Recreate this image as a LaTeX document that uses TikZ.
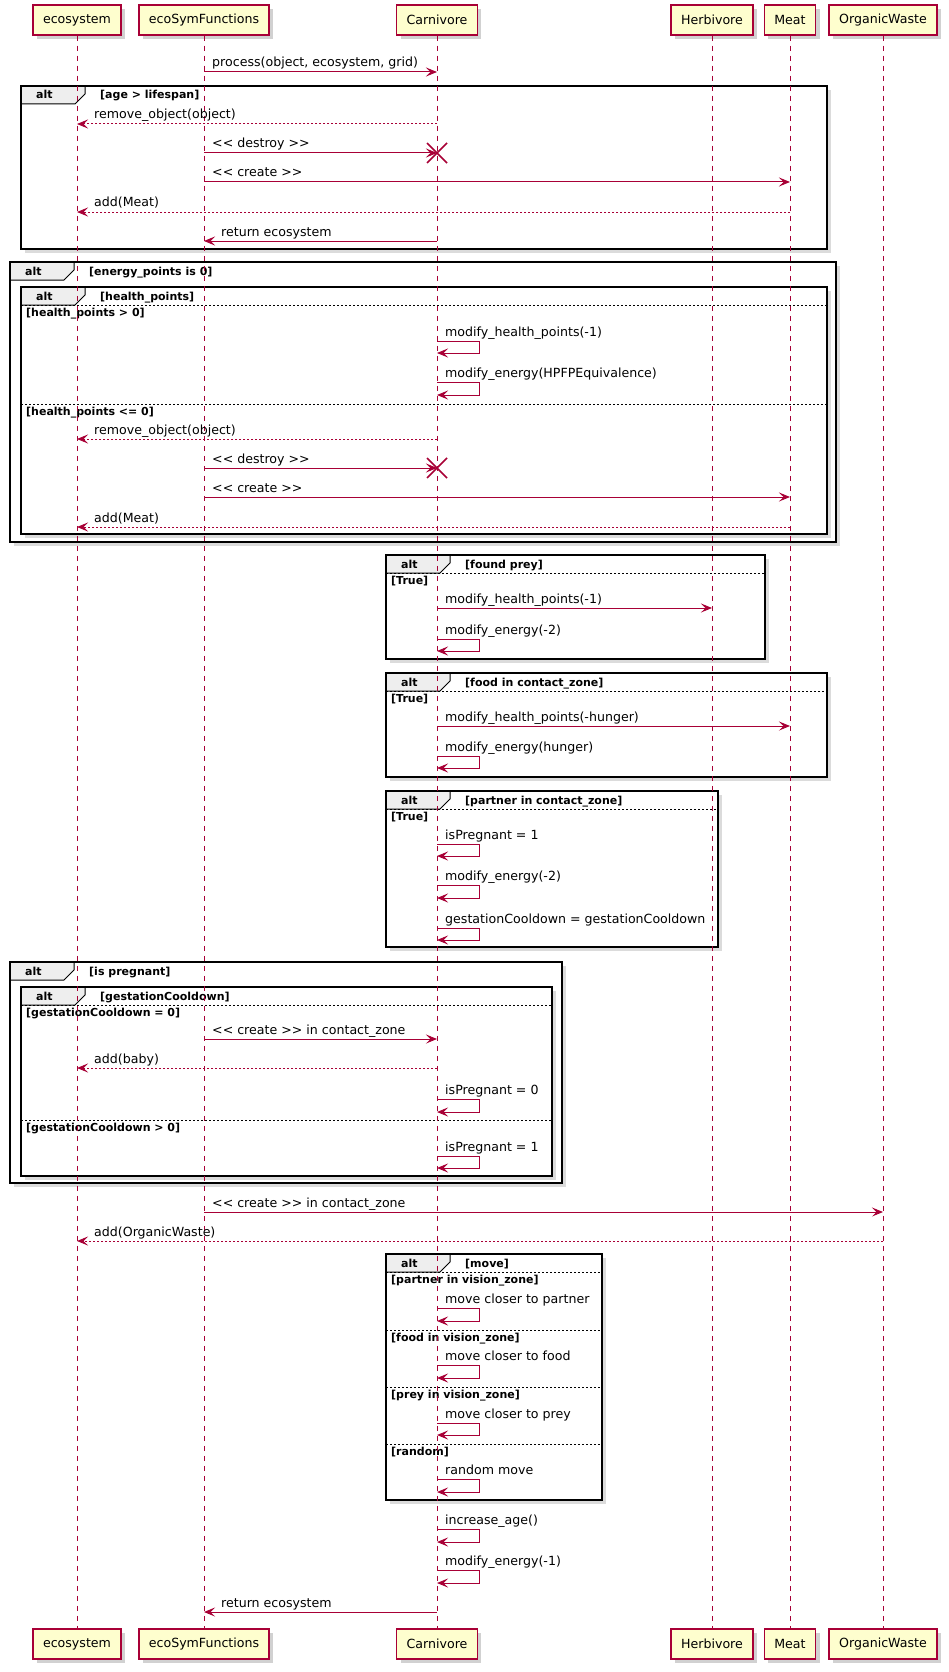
\documentclass[tikz,border=0pt]{standalone}
\usepackage{fontspec}
\setmainfont{DejaVu Sans}
\usetikzlibrary{arrows.meta,shadows}
\definecolor{umlred}{HTML}{A80036}
\definecolor{umlfill}{HTML}{FEFECE}
\definecolor{tabgray}{HTML}{EEEEEE}
\newcommand{\msgfont}{\fontsize{12.6}{15}\selectfont}
\newcommand{\stereo}[1]{<\kern0pt< #1 >\kern0pt>}
% name, left, top, right, bottom, guard
\newcommand{\altframe}[6]{%
  \fill[frameshade] (#2+4,#3+4) rectangle (#4+4,#5+4);
  \fill[white] (#2,#3) rectangle (#4,#5);
  \filldraw[tab] (#2,#3) -- (#2+64,#3) -- (#2+64,#3+8) -- (#2+54,#3+18) -- (#2,#3+18) -- cycle;
  \draw[frame] (#2,#3) rectangle (#4,#5);
  \node[guard] (#1a) at (#2+15,#3+13) {alt};
  \node[guard] (#1g) at (#2+79,#3+13) {#6};
}
% name, left, right, y, label
\newcommand{\altsep}[5]{%
  \draw[sep] (#2,#4) -- (#3,#4);
  \node[guard] (#1) at (#2+5,#4+11) {#5};
}
\begin{document}
\begin{tikzpicture}[x=1pt,y=-1pt,
    part/.style={draw=umlred, fill=umlfill, line width=1.5pt, minimum height=30pt, inner xsep=10pt, font=\msgfont,
      drop shadow={shadow xshift=4pt, shadow yshift=-4pt, fill=black!30, opacity=.6}},
    lifeline/.style={draw=umlred, line width=1pt, dash pattern=on 5pt off 5pt},
    msg/.style={draw=umlred, line width=1pt, -{Stealth[length=11pt,width=9pt,inset=4.5pt]}},
    ret/.style={msg, dash pattern=on 2pt off 2pt},
    kill/.style={draw=umlred, line width=1.5pt},
    lbl/.style={anchor=base west, inner sep=0pt, font=\msgfont},
    guard/.style={anchor=base west, inner sep=0pt, font=\bfseries\fontsize{11}{13}\selectfont},
    frame/.style={draw=black, line width=1.8pt},
    frameshade/.style={fill=black!14},
    tab/.style={fill=tabgray, draw=black, line width=1pt},
    sep/.style={draw=black, line width=.8pt, dash pattern=on 2pt off 2pt}]
\useasboundingbox (0,0) rectangle (949,1672);

% alt frames
\altframe{fa}{21}{86}{827}{249}{[age > lifespan]}
\altframe{fb}{10}{262}{836}{542}{[energy\_points is 0]}
\altframe{fc}{21}{287}{827}{534}{[health\_points]}
\altsep{sc1}{21}{827}{305}{[health\_points > 0]}
\altsep{sc2}{21}{827}{404}{[health\_points <= 0]}
\altframe{fd}{386}{555}{765}{659}{[found prey]}
\altsep{sd1}{386}{765}{573}{[True]}
\altframe{fe}{386}{673}{827}{777}{[food in contact\_zone]}
\altsep{se1}{386}{827}{691}{[True]}
\altframe{ff}{386}{791}{718}{947}{[partner in contact\_zone]}
\altsep{sf1}{386}{718}{809}{[True]}
\altframe{fg}{10}{962}{562}{1183}{[is pregnant]}
\altframe{fh}{21}{987}{552}{1176}{[gestationCooldown]}
\altsep{sh1}{21}{552}{1005}{[gestationCooldown = 0]}
\altsep{sh2}{21}{552}{1120}{[gestationCooldown > 0]}
\altframe{fi}{386}{1254}{602}{1500}{[move]}
\altsep{si1}{386}{602}{1272}{[partner in vision\_zone]}
\altsep{si2}{386}{602}{1330}{[food in vision\_zone]}
\altsep{si3}{386}{602}{1387}{[prey in vision\_zone]}
\altsep{si4}{386}{602}{1444}{[random]}

% participants
\node[part] (ecoT) at (77,20) {ecosystem};
\node[part] (fnT) at (204,20) {ecoSymFunctions};
\node[part] (carnT) at (437,20) {Carnivore};
\node[part] (herbT) at (712,20) {Herbivore};
\node[part] (meatT) at (790,20) {Meat};
\node[part] (owT) at (883,20) {OrganicWaste};
\node[part] (ecoB) at (77,1644) {ecosystem};
\node[part] (fnB) at (204,1644) {ecoSymFunctions};
\node[part] (carnB) at (437,1644) {Carnivore};
\node[part] (herbB) at (712,1644) {Herbivore};
\node[part] (meatB) at (790,1644) {Meat};
\node[part] (owB) at (883,1644) {OrganicWaste};
\draw[lifeline] (ecoT) -- (ecoB); \draw[lifeline] (fnT) -- (fnB); \draw[lifeline] (carnT) -- (carnB);
\draw[lifeline] (herbT) -- (herbB); \draw[lifeline] (meatT) -- (meatB); \draw[lifeline] (owT) -- (owB);

% messages
\draw[msg] (fnT |- 0,72) -- (carnT |- 0,72); \node[lbl] (m1) at (212,67) {process(object, ecosystem, grid)};
% age > lifespan
\draw[ret] (carnT |- 0,124) -- (ecoT |- 0,124); \node[lbl] (m2) at (94,119) {remove\_object(object)};
\draw[msg] (fnT |- 0,153) -- (carnT |- 0,153); \node[lbl] (m3) at (212,148) {\stereo{destroy}};
\draw[kill] (carnT |- 0,153) ++(-10,-10) -- ++(20,20) ++(-20,0) -- ++(20,-20);
\draw[msg] (fnT |- 0,182) -- (meatT |- 0,182); \node[lbl] (m4) at (212,177) {\stereo{create}};
\draw[ret] (meatT |- 0,212) -- (ecoT |- 0,212); \node[lbl] (m5) at (94,207) {add(Meat)};
\draw[msg] (carnT |- 0,241) -- (fnT |- 0,241); \node[lbl] (m6) at (221,236) {return ecosystem};
% energy_points is 0
\draw[msg] (carnT |- 0,341) -- ++(42,0) -- ++(0,12) -- (carnT |- 0,353); \node[lbl] (m7) at (445,336) {modify\_health\_points(-1)};
\draw[msg] (carnT |- 0,382) -- ++(42,0) -- ++(0,13) -- (carnT |- 0,395); \node[lbl] (m8) at (445,377) {modify\_energy(HPFPEquivalence)};
\draw[ret] (carnT |- 0,439) -- (ecoT |- 0,439); \node[lbl] (m9) at (94,434) {remove\_object(object)};
\draw[msg] (fnT |- 0,468) -- (carnT |- 0,468); \node[lbl] (m10) at (212,463) {\stereo{destroy}};
\draw[kill] (carnT |- 0,468) ++(-10,-10) -- ++(20,20) ++(-20,0) -- ++(20,-20);
\draw[msg] (fnT |- 0,497) -- (meatT |- 0,497); \node[lbl] (m11) at (212,492) {\stereo{create}};
\draw[ret] (meatT |- 0,527) -- (ecoT |- 0,527); \node[lbl] (m12) at (94,522) {add(Meat)};
% contact zone
\draw[msg] (carnT |- 0,608) -- (herbT |- 0,608); \node[lbl] (m13) at (445,603) {modify\_health\_points(-1)};
\draw[msg] (carnT |- 0,639) -- ++(42,0) -- ++(0,12) -- (carnT |- 0,651); \node[lbl] (m14) at (445,634) {modify\_energy(-2)};
\draw[msg] (carnT |- 0,726) -- (meatT |- 0,726); \node[lbl] (m15) at (445,721) {modify\_health\_points(-hunger)};
\draw[msg] (carnT |- 0,756) -- ++(42,0) -- ++(0,12) -- (carnT |- 0,768); \node[lbl] (m16) at (445,751) {modify\_energy(hunger)};
\draw[msg] (carnT |- 0,844) -- ++(42,0) -- ++(0,12) -- (carnT |- 0,856); \node[lbl] (m17) at (445,839) {isPregnant = 1};
\draw[msg] (carnT |- 0,885) -- ++(42,0) -- ++(0,13) -- (carnT |- 0,898); \node[lbl] (m18) at (445,880) {modify\_energy(-2)};
\draw[msg] (carnT |- 0,928) -- ++(42,0) -- ++(0,12) -- (carnT |- 0,940); \node[lbl] (m19) at (445,923) {gestationCooldown = gestationCooldown};
% is pregnant
\draw[msg] (fnT |- 0,1039) -- (carnT |- 0,1039); \node[lbl] (m20) at (212,1034) {\stereo{create} in contact\_zone};
\draw[ret] (carnT |- 0,1068) -- (ecoT |- 0,1068); \node[lbl] (m21) at (94,1063) {add(baby)};
\draw[msg] (carnT |- 0,1099) -- ++(42,0) -- ++(0,13) -- (carnT |- 0,1112); \node[lbl] (m22) at (445,1094) {isPregnant = 0};
\draw[msg] (carnT |- 0,1156) -- ++(42,0) -- ++(0,12) -- (carnT |- 0,1168); \node[lbl] (m23) at (445,1151) {isPregnant = 1};
\draw[msg] (fnT |- 0,1212) -- (owT |- 0,1212); \node[lbl] (m24) at (212,1207) {\stereo{create} in contact\_zone};
\draw[ret] (owT |- 0,1241) -- (ecoT |- 0,1241); \node[lbl] (m25) at (94,1236) {add(OrganicWaste)};
% move
\draw[msg] (carnT |- 0,1308) -- ++(42,0) -- ++(0,13) -- (carnT |- 0,1321); \node[lbl] (m26) at (445,1303) {move closer to partner};
\draw[msg] (carnT |- 0,1365) -- ++(42,0) -- ++(0,13) -- (carnT |- 0,1378); \node[lbl] (m27) at (445,1360) {move closer to food};
\draw[msg] (carnT |- 0,1423) -- ++(42,0) -- ++(0,12) -- (carnT |- 0,1435); \node[lbl] (m28) at (445,1418) {move closer to prey};
\draw[msg] (carnT |- 0,1479) -- ++(42,0) -- ++(0,13) -- (carnT |- 0,1492); \node[lbl] (m29) at (445,1474) {random move};
\draw[msg] (carnT |- 0,1529) -- ++(42,0) -- ++(0,13) -- (carnT |- 0,1542); \node[lbl] (m30) at (445,1524) {increase\_age()};
\draw[msg] (carnT |- 0,1570) -- ++(42,0) -- ++(0,13) -- (carnT |- 0,1583); \node[lbl] (m31) at (445,1565) {modify\_energy(-1)};
\draw[msg] (carnT |- 0,1612) -- (fnT |- 0,1612); \node[lbl] (m32) at (221,1607) {return ecosystem};
\end{tikzpicture}
\end{document}
